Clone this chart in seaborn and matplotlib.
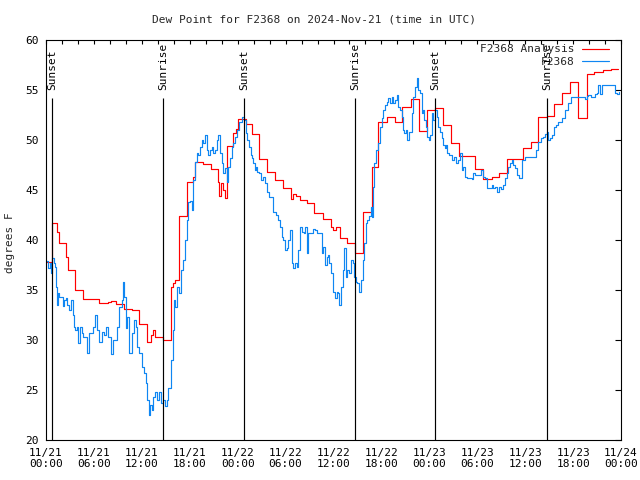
import numpy as np
import pandas as pd
import matplotlib
matplotlib.use("Agg")
import matplotlib.pyplot as plt
import seaborn as sns

# ---- data (hours since 2024-11-21 00:00 UTC) ----
analysis_hours = [0.0, 0.75, 1.34, 1.67, 2.5, 2.75, 3.63, 4.63, 6.64, 7.76, 8.14, 8.77, 9.77, 10.77,
                  11.65, 12.65, 13.15, 13.4, 13.65, 14.65, 15.65, 15.9, 16.15, 16.65, 17.66, 18.4,
                  18.66, 19.66, 20.66, 21.54, 21.66, 21.9, 22.16, 22.41, 22.66, 23.42, 23.79, 24.04,
                  25.04, 25.8, 26.67, 27.67, 28.67, 29.68, 30.68, 30.93, 31.3, 31.81, 32.68, 33.56,
                  34.69, 35.69, 35.94, 36.31, 36.81, 37.69, 38.69, 39.7, 40.82, 41.57, 42.7, 43.7,
                  44.58, 45.71, 46.71, 47.71, 48.71, 49.71, 50.71, 51.72, 53.72, 54.72, 55.85, 56.72,
                  57.73, 58.73, 59.73, 60.73, 61.61, 62.74, 63.61, 64.61, 65.61, 66.61, 67.74, 68.62,
                  69.75, 70.75, 71.63]
analysis_vals = [37.8, 41.7, 40.8, 39.7, 38.3, 37.0, 35.0, 34.1, 33.7, 33.8, 33.9, 33.6, 33.1, 33.0,
                 31.6, 29.8, 30.5, 31.0, 30.3, 30.0, 35.3, 35.7, 36.0, 42.4, 45.8, 46.3,
                 47.8, 47.6, 47.1, 45.8, 44.4, 45.7, 45.0, 44.2, 49.4, 50.7, 51.1, 52.1,
                 51.6, 50.6, 48.1, 46.8, 46.0, 45.2, 44.1, 44.6, 44.4, 44.0, 43.7, 42.7,
                 42.1, 41.3, 41.0, 41.3, 40.2, 39.7, 38.7, 42.8, 47.3, 51.8, 52.3, 51.8,
                 53.3, 54.1, 50.9, 53.0, 53.2, 51.5, 49.7, 48.4, 47.1, 46.1, 46.3, 46.7,
                 48.1, 48.1, 49.2, 49.8, 52.3, 52.4, 53.6, 54.7, 55.8, 52.2, 56.6, 56.8,
                 57.0, 57.1, 57.1]

obs_hours = [0.0, 0.29, 0.5, 0.63, 0.75, 1.0, 1.13, 1.25, 1.41, 1.54, 1.67, 1.97, 2.09, 2.25, 2.5,
             2.67, 2.92, 3.09, 3.34, 3.51, 3.63, 3.84, 4.04, 4.26, 4.47, 4.67, 4.97, 5.17, 5.42,
             5.72, 5.85, 6.14, 6.35, 6.67, 6.97, 7.26, 7.51, 7.8, 8.1, 8.35, 8.64, 8.93, 9.18,
             9.48, 9.64, 9.77, 10.02, 10.18, 10.43, 10.73, 11.02, 11.27, 11.43, 11.68, 11.98,
             12.27, 12.52, 12.68, 12.86, 13.02, 13.24, 13.44, 13.65, 13.94, 14.19, 14.36, 14.65,
             14.9, 15.15, 15.31, 15.61, 15.86, 16.03, 16.19, 16.44, 16.62, 16.87, 17.12, 17.37,
             17.62, 17.82, 18.03, 18.24, 18.44, 18.66, 18.87, 19.07, 19.28, 19.5, 19.7, 19.91,
             20.12, 20.32, 20.54, 20.75, 20.95, 21.16, 21.37, 21.58, 21.79, 22.0, 22.2, 22.41,
             22.63, 22.83, 23.04, 23.25, 23.45, 23.67, 23.88, 24.2, 24.51, 24.79, 25.04, 25.21,
             25.46, 25.63, 25.8, 25.96, 26.13, 26.3, 26.46, 26.71, 26.96, 27.17, 27.42, 27.64,
             27.96, 28.26, 28.46, 28.8, 29.09, 29.3, 29.51, 29.71, 29.93, 30.14, 30.34, 30.55,
             30.77, 30.97, 31.18, 31.39, 31.59, 31.81, 32.06, 32.31, 32.43, 32.64, 32.85, 33.15,
             33.4, 33.68, 33.97, 34.31, 34.52, 34.72, 34.94, 35.15, 35.35, 35.47, 35.65, 35.9,
             36.15, 36.4, 36.6, 36.73, 36.9, 37.15, 37.35, 37.57, 37.73, 37.94, 38.15, 38.4,
             38.6, 38.82, 38.98, 39.23, 39.41, 39.66, 39.82, 40.03, 40.23, 40.44, 40.66, 40.78,
             40.91, 41.07, 41.32, 41.61, 41.82, 42.04, 42.24, 42.45, 42.66, 42.86, 43.07, 43.28,
             43.48, 43.7, 43.91, 44.11, 44.33, 44.54, 44.66, 44.83, 45.04, 45.24, 45.49, 45.79,
             45.99, 46.21, 46.42, 46.62, 46.83, 47.04, 47.17, 47.33, 47.58, 47.75, 47.92, 48.08,
             48.3, 48.5, 48.71, 48.92, 49.12, 49.34, 49.55, 49.75, 49.96, 50.09, 50.25, 50.5,
             50.8, 51.09, 51.34, 51.59, 51.84, 52.05, 52.21, 52.47, 52.68, 53.0, 53.31, 53.51,
             53.72, 54.13, 54.43, 54.76, 54.97, 55.18, 55.6, 55.81, 56.01, 56.22, 56.51, 56.76,
             57.01, 57.26, 57.48, 57.69, 57.89, 58.1, 58.31, 58.52, 58.73, 58.94, 59.27, 59.57,
             59.98, 60.61, 61.11, 61.36, 61.65, 61.95, 62.2, 62.49, 62.7, 62.9, 63.11, 63.32,
             63.61, 63.86, 64.15, 64.57, 64.99, 65.4, 65.7, 66.45, 67.28, 67.49, 67.7, 67.91,
             68.25, 68.75, 69.0, 69.16, 69.37, 69.58, 70.41, 71.12, 71.25, 71.46, 71.79]
obs_vals = [37.9, 37.2, 37.7, 36.7, 38.2, 37.7, 37.3, 35.3, 33.5, 34.7, 34.3, 34.3, 33.4, 34.0, 34.2,
            33.5, 33.0, 34.0, 32.5, 31.3, 31.0, 31.3, 29.7, 31.3, 30.7, 30.3, 30.3, 28.7, 30.7,
            30.7, 31.3, 32.5, 31.0, 29.8, 30.8, 30.5, 31.3, 30.3, 28.6, 30.0, 30.0, 31.3, 33.3,
            34.0, 35.8, 34.3, 31.2, 32.3, 28.7, 30.7, 32.0, 31.3, 29.3, 28.7, 27.3,
            26.7, 25.7, 24.0, 22.5, 23.5, 23.0, 24.3, 24.8, 24.0, 24.8, 23.7, 24.0,
            23.4, 24.0, 25.2, 28.0, 31.0, 34.0, 33.3, 35.3, 34.7, 37.0, 38.0, 40.0,
            42.0, 43.8, 43.9, 43.0, 46.0, 47.8, 48.7, 48.5, 49.3, 50.0, 49.7, 50.5,
            49.0, 48.5, 49.0, 49.3, 48.7, 49.0, 50.0, 50.5, 48.7, 47.7, 46.7, 47.2,
            45.8, 47.3, 48.2, 49.3, 49.7, 50.3, 51.0, 51.8, 52.3, 52.0, 50.7, 50.0,
            49.3, 48.5, 48.2, 47.7, 47.0, 47.3, 46.8, 46.7, 46.0, 46.3, 45.7, 44.8,
            44.3, 44.3, 42.8, 42.5, 42.0, 41.3, 40.3, 40.0, 39.0, 39.2, 40.0, 41.0,
            37.7, 37.2, 37.7, 37.3, 39.0, 41.3, 40.8, 40.7, 41.3, 38.7, 40.7, 40.7,
            41.1, 41.0, 40.7, 40.7, 38.7, 39.3, 37.5, 38.3, 38.5, 37.7, 36.7, 34.8,
            34.2, 34.8, 34.7, 33.5, 35.3, 37.0, 39.2, 36.3, 37.0, 36.7, 38.0, 37.7,
            36.3, 35.8, 35.7, 34.8, 36.0, 38.0, 39.7, 41.7, 42.0, 42.4, 43.3, 42.3,
            45.3, 47.7, 49.0, 49.7, 51.3, 52.2, 53.0, 53.5, 53.8, 54.2, 53.7, 54.3,
            53.7, 54.0, 54.5, 53.3, 53.0, 52.3, 51.0, 50.7, 51.0, 50.0, 50.8, 52.7,
            54.3, 55.3, 56.2, 55.0, 54.7, 52.7, 53.0, 52.0, 51.3, 50.3, 50.0, 50.5,
            52.7, 52.0, 53.0, 52.3, 51.3, 50.8, 50.2, 49.5, 49.2, 49.5, 48.7, 48.5,
            48.0, 48.3, 47.7, 48.0, 48.7, 47.0, 47.3, 46.3, 46.2, 46.2, 46.1, 46.7,
            46.5, 46.5, 47.0, 46.3, 46.2, 45.2, 45.2, 45.5, 45.2, 45.3, 44.8, 45.3,
            45.1, 45.5, 46.2, 46.7, 47.3, 47.7, 48.0, 47.5, 47.2, 46.5, 46.2, 48.0,
            48.3, 48.3, 48.3, 49.0, 49.8, 50.2, 50.3, 50.6, 50.8, 50.0, 50.2, 50.5,
            51.3, 51.5, 51.8, 52.2, 53.0, 53.7, 54.3, 54.3, 54.3, 54.1, 54.4, 54.5,
            54.3, 54.6, 54.7, 55.5, 54.6, 55.5, 55.5, 55.5, 54.7, 54.6, 54.8]

sun_hours = [0.75, 14.65, 24.79, 38.69, 48.71, 62.74]
sun_labels = ["Sunset", "Sunrise", "Sunset", "Sunrise", "Sunset", "Sunrise"]

xtick_hours = [0, 6, 12, 18, 24, 30, 36, 42, 48, 54, 60, 66, 72]
xtick_labels = ["11/21\n00:00", "11/21\n06:00", "11/21\n12:00", "11/21\n18:00",
                "11/22\n00:00", "11/22\n06:00", "11/22\n12:00", "11/22\n18:00",
                "11/23\n00:00", "11/23\n06:00", "11/23\n12:00", "11/23\n18:00",
                "11/24\n00:00"]
yticks = [20, 25, 30, 35, 40, 45, 50, 55, 60]

title = "Dew Point for F2368 on 2024-Nov-21 (time in UTC)"
ylabel = "degrees F"
series_names = ["F2368 Analysis", "F2368"]

# ---- plotting ----
sns.set_theme(style="white")
plt.rcParams['font.family'] = ['DejaVu Sans Mono']
plt.rcParams['font.size'] = 8

fig = plt.figure(figsize=(6.4, 4.8), dpi=100)
ax = fig.add_axes([46/640, 1-440/480, (621-46)/640, 400/480])

df_a = pd.DataFrame({"hours": analysis_hours, "value": analysis_vals})
df_o = pd.DataFrame({"hours": obs_hours, "value": obs_vals})

lw = 0.85
sns.lineplot(data=df_a, x="hours", y="value", ax=ax, color="#ff0000", lw=lw,
             drawstyle="steps-post", estimator=None, label=series_names[0])
sns.lineplot(data=df_o, x="hours", y="value", ax=ax, color="#0f86f2", lw=lw,
             drawstyle="steps-post", estimator=None, label=series_names[1])

for h, lab in zip(sun_hours, sun_labels):
    ax.vlines(h, 20, 54.2, color="black", lw=0.85)
    ax.text(h, 55.0, lab, rotation=90, ha="center", va="bottom", fontsize=8, color="black")

ax.set_xlim(0, 72)
ax.set_ylim(20, 60)
ax.set_xticks(xtick_hours)
ax.set_xticklabels(xtick_labels, linespacing=1.05)
ax.set_xticks(np.arange(0, 73, 3), minor=True)
ax.set_yticks(yticks)
ax.set_yticklabels([str(v) for v in yticks])
ax.set_xlabel("")
ax.set_ylabel("")

ax.tick_params(axis="both", which="both", direction="in", color="black", labelcolor="black",
               labelsize=8, width=0.8)
ax.tick_params(axis="x", which="major", length=4, pad=6, top=False)
ax.tick_params(axis="x", which="minor", length=4, top=False)
ax.tick_params(axis="y", which="major", length=4, pad=5, right=True)

sec = ax.secondary_xaxis("top")
sec.set_xticks(np.arange(0, 73, 2))
sec.tick_params(direction="in", length=3, width=0.8, labeltop=False, color="black")
sec.spines["top"].set_visible(False)

for s in ax.spines.values():
    s.set_color("black")
    s.set_linewidth(0.8)
    s.set_visible(True)

leg = ax.legend(loc="upper right", bbox_to_anchor=(0.9868, 1.0), frameon=False,
                markerfirst=False, fontsize=8, handlelength=2.4, handletextpad=0.7,
                borderaxespad=0.0, labelspacing=0.25)
for t in leg.get_texts():
    t.set_ha("right")
leg._legend_box.align = "right"

fig.text(314/640, 1-19/480, title, ha="center", va="center", fontsize=8)
fig.text(10/640, 1-243/480, ylabel, rotation=90, ha="center", va="center", fontsize=8)

fig.savefig("out.png", dpi=100)
